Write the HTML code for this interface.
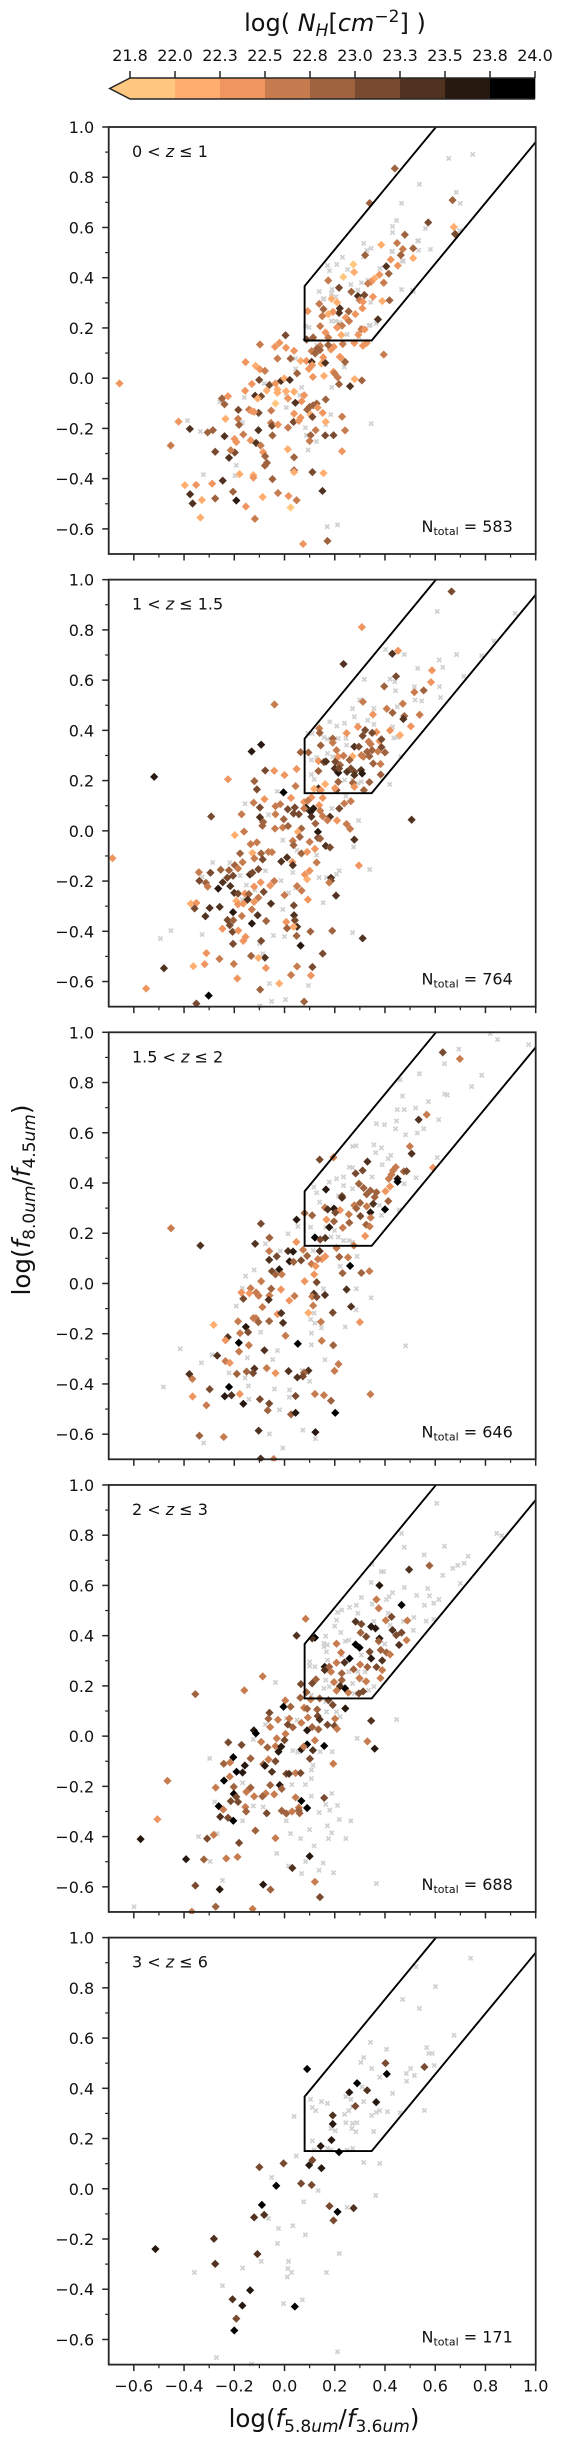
<!DOCTYPE html>
<html lang="en">
<head>
<meta charset="utf-8">
<title>IRAC colour-colour diagram by redshift</title>
<style>
html,body{margin:0;padding:0;background:#fff;}
svg{display:block;font-family:"DejaVu Sans","Liberation Sans",sans-serif;fill:#111;}
</style>
</head>
<body>
<svg id="figure" xmlns="http://www.w3.org/2000/svg" width="561" height="2439" viewBox="0 0 561 2439">
<rect x="0" y="0" width="561" height="2439" fill="#fff"/>
<text x="335" y="31" text-anchor="middle" font-size="24">log( <tspan font-style="italic">N</tspan><tspan font-style="italic" font-size="17" dy="5">H</tspan><tspan dy="-5">[</tspan><tspan font-style="italic">cm</tspan><tspan font-size="17" dy="-9">−2</tspan><tspan dy="9">] )</tspan></text>
<text transform="translate(30,1200) rotate(-90)" text-anchor="middle" font-size="24.5">log(<tspan font-style="italic">f</tspan><tspan font-size="17" dy="5">8.0</tspan><tspan font-size="17" font-style="italic">um</tspan><tspan dy="-5">/</tspan><tspan font-style="italic">f</tspan><tspan font-size="17" dy="5">4.5</tspan><tspan font-size="17" font-style="italic">um</tspan><tspan dy="-5">)</tspan></text>
<text x="324" y="2427" text-anchor="middle" font-size="24.5">log(<tspan font-style="italic">f</tspan><tspan font-size="17" dy="5">5.8</tspan><tspan font-size="17" font-style="italic">um</tspan><tspan dy="-5">/</tspan><tspan font-style="italic">f</tspan><tspan font-size="17" dy="5">3.6</tspan><tspan font-size="17" font-style="italic">um</tspan><tspan dy="-5">)</tspan></text>
<g id="colorbar"></g>
<g id="panels"></g>
</svg>
<script>
const xTickValues = [-0.6,-0.4,-0.2,0.0,0.2,0.4,0.6,0.8,1.0];
const xTickLabels = ["−0.6","−0.4","−0.2","0.0","0.2","0.4","0.6","0.8","1.0"];
const yTickValues = [-0.6,-0.4,-0.2,0.0,0.2,0.4,0.6,0.8,1.0];
const yTickLabels = ["−0.6","−0.4","−0.2","0.0","0.2","0.4","0.6","0.8","1.0"];
const minorTickValues = [-0.5,-0.3,-0.1,0.1,0.3,0.5,0.7,0.9];
const nhLevels = [21.75,22.0,22.25,22.5,22.75,23.0,23.25,23.5,23.75,24.0];
const nhLabels = ["21.8","22.0","22.3","22.5","22.8","23.0","23.3","23.5","23.8","24.0"];
const nhColors = ["#ffc77f","#ffae6f","#ef955f","#c77c4f","#9f643f","#784b30","#503220","#281910","#000000"];
const wedgeX = [0.603,0.08,0.08,0.347,1.0];
const wedgeY = [1.0,0.3668,0.15,0.15,0.94];
const panelLabels = [["0 < ","z"," ≤ 1"],["1 < ","z"," ≤ 1.5"],["1.5 < ","z"," ≤ 2"],["2 < ","z"," ≤ 3"],["3 < ","z"," ≤ 6"]];
const panelTotals = [583,764,646,688,171];

const panel1Sources = [[-.657,-.021,22.4],[-.453,-.268,22.6],[-.422,-.173,22.4],[-.377,-.202,23.4],[-.306,-.216,22.9],[-.285,-.207,22.9],[-.239,-.231,23.4],[-.276,-.293,23.1],[-.221,-.317,23.4],[-.198,-.296,23.1],[-.214,-.287,22.6],[-.199,-.242,22.4],[-.192,-.254,22.4],[-.249,-.081,22.9],[-.239,-.104,22.9],[-.225,-.072,22.4],[-.235,-.162,22.1],[-.184,-.126,23.1],[-.185,-.162,22.6],[-.181,-.186,22.9],[-.164,-.224,22.6],[-.135,-.247,22.4],[-.113,-.258,23.4],[-.095,-.268,22.6],[-.085,-.295,22.4],[-.077,-.311,22.9],[-.07,-.337,22.9],[-.078,-.348,22.9],[-.104,-.207,23.4],[-.103,-.138,23.1],[-.141,-.125,22.6],[-.131,-.131,22.4],[-.121,-.134,22.4],[-.117,-.07,23.4],[-.093,-.072,23.1],[-.107,-.081,22.1],[-.157,-.05,22.4],[-.13,-.023,22.4],[-.071,-.049,22.1],[-.06,-.027,23.1],[-.101,-.007,23.1],[-.036,-.021,22.4],[-.014,-.011,23.4],[-.001,-.001,22.1],[.021,-.007,23.4],[.05,.019,22.9],[-.028,-.045,22.1],[-.028,-.058,22.1],[.006,-.052,22.1],[.038,-.054,22.1],[.014,-.081,22.4],[.078,-.068,22.4],[.068,-.092,22.4],[.043,-.098,23.4],[-.036,-.101,21.9],[-.053,-.129,22.6],[-.054,-.178,22.6],[-.05,-.19,23.1],[-.026,-.185,22.4],[.014,-.197,22.6],[-.048,-.228,22.9],[.038,-.141,22.4],[.036,-.174,23.1],[.057,-.17,22.4],[.064,-.157,22.4],[.09,-.125,22.9],[.1,-.114,22.9],[.114,-.108,22.9],[.128,-.101,22.9],[.132,-.117,22.4],[.104,-.145,22.1],[.111,-.154,23.1],[.152,-.138,22.4],[.164,-.085,22.9],[.164,-.174,22.1],[.124,-.207,22.6],[.104,-.227,22.9],[.1,-.25,22.6],[.162,-.228,23.1],[.195,-.227,23.1],[.229,-.153,22.6],[.241,-.208,22.6],[.229,-.291,22.4],[.013,-.283,22.1],[.038,-.315,22.9],[.038,-.367,22.9],[.038,-.374,22.1],[.111,-.374,23.1],[.155,-.378,22.1],[-.048,-.402,22.9],[-.124,-.386,22.1],[-.124,-.396,22.4],[-.179,-.382,22.1],[-.246,-.408,23.4],[-.288,-.42,22.4],[-.352,-.425,22.4],[-.397,-.426,22.1],[-.376,-.462,23.4],[-.366,-.499,23.4],[-.329,-.485,22.1],[-.276,-.479,22.9],[-.205,-.452,22.9],[-.192,-.487,23.6],[-.154,-.511,22.4],[-.087,-.473,22.1],[-.026,-.457,22.6],[.016,-.469,22.4],[.048,-.486,22.6],[.024,-.515,21.9],[.151,-.449,23.4],[-.335,-.555,22.1],[-.118,-.56,22.6],[.074,-.66,22.4],[.171,-.648,22.9],[-.155,.064,22.4],[-.115,.049,22.1],[-.098,.035,22.4],[-.078,.029,22.6],[-.098,.134,22.6],[-.028,.078,22.6],[.024,.078,22.9],[.064,.069,22.1],[.087,.069,22.4],[.108,.065,23.4],[.006,.121,22.4],[.038,.109,22.4],[-.038,.125,22.4],[-.02,.141,22.4],[.004,.171,23.1],[.097,.037,22.4],[.11,.052,22.4],[.113,.005,22.4],[.157,.009,22.1],[.147,.058,22.1],[.162,.061,23.4],[.195,.025,22.4],[.199,.019,22.6],[.212,.003,22.6],[.217,-.024,22.9],[.261,-.032,23.4],[.279,-.004,22.1],[.308,-.009,22.9],[.241,.065,22.9],[.224,.082,22.4],[.395,.094,22.6],[.385,.531,22.1],[.448,.538,22.6],[.471,.514,22.6],[.512,.517,22.9],[.463,.49,22.9],[.423,.472,22.4],[.512,.478,22.1],[.451,.448,22.4],[.405,.445,23.4],[.321,.49,22.9],[.274,.453,21.9],[.277,.422,22.1],[.234,.403,21.9],[.174,.389,22.6],[.217,.36,23.1],[.415,.416,22.9],[.378,.412,22.4],[.358,.397,22.1],[.345,.384,22.4],[.332,.377,22.6],[.395,.38,22.6],[.266,.344,22.9],[.318,.331,23.1],[.292,.327,23.4],[.352,.324,22.4],[.389,.307,22.1],[.418,.31,22.9],[.299,.311,22.6],[.312,.304,22.4],[.187,.316,22.1],[.209,.302,22.1],[.138,.296,22.6],[.155,.275,22.9],[.22,.278,23.4],[.217,.26,23.4],[.193,.264,22.4],[.174,.255,22.1],[.15,.247,22.6],[.092,.267,22.4],[.255,.266,22.9],[.31,.278,22.4],[.282,.255,22.4],[.244,.241,22.4],[.257,.227,22.6],[.372,.234,23.4],[.142,.207,22.6],[.214,.206,22.9],[.229,.209,22.6],[.209,.202,22.4],[.163,.182,22.4],[.306,.195,22.6],[.319,.194,22.4],[.226,.172,22.1],[.294,.173,22.4],[.174,.162,22.6],[.114,.162,22.9],[.088,.154,23.1],[.278,.14,22.4],[.312,.129,22.4],[.327,.14,22.4],[.232,.136,22.6],[.196,.125,22.4],[.185,.114,22.4],[.174,.132,22.9],[.142,.128,22.6],[.13,.118,22.9],[.108,.108,22.6],[.141,.112,22.9],[.122,.098,22.9],[.154,.083,22.4],[.22,.085,22.4],[.439,.835,22.9],[.339,.697,22.9],[.669,.709,22.9],[.572,.62,23.1],[.674,.602,22.1],[.679,.574,23.1],[.479,.571,22.9]];
const panel1Undetected = [[.654,.875],[.749,.891],[.537,.772],[.684,.74],[.7,.696],[.466,.696],[.446,.628],[.43,.604],[.43,.58],[.561,.596],[.697,.588],[.315,.537],[.345,.517],[.328,.509],[.315,.483],[.534,.548],[.534,.509],[.581,.513],[.43,.505],[.473,.465],[.231,.481],[.171,.449],[.208,.453],[.179,.428],[.251,.433],[.38,.437],[.138,.345],[.189,.353],[.187,.337],[.157,.317],[.204,.324],[.264,.373],[.306,.38],[.332,.39],[.292,.351],[.466,.353],[.513,.344],[.098,.202],[.084,.207],[.187,.227],[.204,.227],[.22,.222],[.249,.174],[.336,.209],[.365,.218],[.306,.2],[.154,.314],[.343,.302],[.51,.351],[.53,.546],[.427,.504],[.468,.468],[-.258,-.094],[-.16,-.077],[-.081,-.021],[.007,-.072],[.044,.078],[.044,.037],[.068,-.037],[.061,-.068],[.007,-.117],[.238,.045],[.188,-.037],[.184,-.145],[.164,-.185],[.345,-.181],[.083,-.197],[.087,-.227],[.127,-.252],[.094,-.286],[-.167,-.177],[-.386,-.169],[-.335,-.212],[-.192,-.347],[-.323,-.384],[-.197,-.388],[.17,-.591],[.211,-.584],[.128,.131],[.292,.178],[.249,.174],[.342,.211],[.296,.165]];

const panel2Sources = [[.665,.953,23.1],[.308,.811,22.4],[.452,.717,22.4],[.429,.705,23.4],[.235,.664,23.4],[.444,.615,23.1],[.587,.639,22.4],[.583,.592,22.4],[.397,.575,22.9],[.517,.552,22.6],[.554,.559,22.9],[.312,.514,22.6],[-.04,.503,22.6],[.471,.506,22.6],[.407,.486,22.6],[.43,.47,22.9],[.352,.463,22.4],[.477,.457,22.9],[.538,.462,22.6],[.473,.445,23.4],[.503,.416,22.4],[.292,.414,22.4],[.46,.381,22.1],[.42,.4,22.4],[.366,.393,22.4],[.138,.408,22.6],[.14,.39,22.9],[.247,.389,22.4],[.321,.401,23.1],[.311,.378,23.1],[.349,.39,23.1],[.192,.367,22.9],[.192,.351,22.6],[.144,.34,22.9],[.335,.355,22.6],[.343,.345,22.6],[.378,.357,22.4],[.386,.364,23.1],[.386,.333,23.1],[.278,.335,23.4],[.296,.335,23.1],[.349,.321,22.9],[.372,.316,22.6],[.4,.312,22.9],[.329,.315,22.9],[.207,.321,22.6],[.214,.295,22.4],[.235,.299,22.6],[.271,.297,22.1],[.306,.301,22.6],[.314,.295,22.6],[.338,.297,22.9],[.064,.313,22.9],[.095,.312,22.9],[.135,.278,22.4],[.157,.274,23.1],[.165,.276,23.4],[.202,.275,23.1],[.259,.282,22.9],[.353,.268,22.9],[.382,.266,22.6],[.221,.262,22.9],[.2,.248,23.4],[.214,.231,23.6],[.217,.248,23.1],[.249,.235,23.4],[.264,.248,23.1],[.278,.235,23.1],[.305,.242,23.4],[.309,.228,23.6],[.278,.222,23.4],[.135,.238,22.9],[.048,.246,22.4],[-.041,.239,22.4],[-.077,.24,23.1],[0,.222,22.4],[-.225,.205,22.4],[-.12,.198,22.9],[-.11,.165,23.1],[-.093,.343,23.6],[-.131,.316,23.6],[-.519,.215,23.6],[.044,.178,22.6],[-.004,.153,23.9],[.135,.169,23.4],[.118,.167,22.1],[.145,.162,22.4],[.162,.186,22.1],[.214,.195,22.9],[.272,.191,22.9],[.278,.175,22.4],[.338,.194,22.9],[.383,.224,22.9],[.316,.162,22.9],[.207,.162,23.1],[.201,.17,22.4],[.026,.131,22.4],[-.08,.126,22.4],[-.123,.112,22.6],[-.098,.093,23.1],[.078,.115,22.4],[.107,.133,22.4],[.093,.12,22.6],[.152,.131,22.4],[.138,.102,22.4],[.264,.118,22.6],[.238,.109,22.6],[.218,.089,23.1],[.181,.056,23.4],[.115,.089,23.6],[.086,.092,23.6],[-.036,.098,22.6],[-.017,.106,22.6],[.013,.086,23.1],[.041,.093,23.1],[.036,.069,23.1],[.057,.066,23.1],[.104,.076,23.6],[.107,.056,23.4],[.078,.089,22.6],[.142,.08,22.6],[.152,.058,22.6],[.171,.042,22.6],[.209,.041,22.4],[-.036,.066,22.6],[-.003,.046,22.9],[-.171,.066,22.6],[-.292,.057,23.1],[-.098,.054,23.4],[-.085,.035,22.9],[-.088,.02,22.9],[-.038,.009,22.6],[-.007,.013,22.6],[.014,.019,22.9],[.067,.009,22.9],[.123,.029,22.9],[.247,.027,22.6],[.261,.008,22.6],[.506,.044,23.4],[-.161,-.003,22.6],[-.198,-.017,22.1],[.053,-.004,22.1],[.061,-.024,22.9],[.133,-.004,23.6],[.133,-.028,23.1],[.142,-.031,22.9],[.278,-.035,23.4],[.1,-.044,22.6],[.033,-.04,22.6],[.036,-.057,22.9],[.164,-.06,23.4],[.181,-.066,23.1],[-.135,-.053,22.6],[-.11,-.046,22.6],[-.128,-.088,22.1],[-.177,-.09,22.9],[-.093,-.09,22.9],[-.064,-.084,22.6],[-.05,-.085,22.6],[.067,-.09,22.9],[.09,-.084,22.4],[.121,-.072,22.4],[-.12,-.11,22.6],[-.087,-.114,23.1],[-.167,-.125,22.6],[-.198,-.137,22.9],[-.185,-.15,22.6],[-.013,-.122,23.4],[.01,-.106,23.4],[.031,-.124,22.4],[.033,-.137,23.4],[.128,-.126,22.6],[.296,-.138,22.4],[-.341,-.165,22.6],[-.295,-.167,23.1],[-.254,-.155,22.9],[-.221,-.157,22.9],[-.104,-.153,23.1],[-.138,-.174,23.4],[-.128,-.167,23.1],[-.205,-.179,23.1],[-.228,-.187,23.1],[.1,-.159,22.4],[.081,-.174,22.4],[.09,-.193,22.1],[.185,-.187,23.4],[.185,-.199,23.1],[.178,-.206,22.6],[-.339,-.199,23.1],[-.313,-.207,22.9],[-.306,-.222,22.6],[-.246,-.205,23.4],[-.264,-.23,23.6],[-.216,-.22,23.4],[-.041,-.2,22.6],[-.057,-.218,22.4],[-.095,-.205,22.4],[-.121,-.222,22.4],[.05,-.22,22.6],[.068,-.238,22.6],[-.083,-.243,23.1],[-.2,-.247,23.4],[-.185,-.25,23.1],[-.158,-.25,22.4],[-.142,-.252,22.9],[0,-.256,22.6],[.205,-.258,23.4],[-.147,-.274,23.4],[-.104,-.266,22.6],[.093,-.274,22.4],[-.192,-.279,22.1],[-.185,-.293,22.4],[-.164,-.29,22.4],[-.121,-.283,22.4],[-.054,-.29,23.4],[-.373,-.29,22.1],[-.351,-.287,22.4],[-.358,-.309,23.1],[-.298,-.307,23.4],[-.258,-.303,23.4],[.037,-.297,23.1],[-.315,-.34,23.4],[-.205,-.324,23.6],[-.13,-.313,22.6],[-.107,-.336,23.4],[.038,-.336,23.4],[-.227,-.355,23.1],[-.204,-.356,22.9],[-.17,-.339,22.6],[-.073,-.359,22.9],[.041,-.356,23.1],[-.13,-.369,23.6],[-.218,-.376,23.1],[.007,-.363,22.4],[.01,-.388,22.9],[.05,-.382,23.4],[.036,-.382,22.1],[-.247,-.39,22.4],[-.207,-.402,23.1],[-.184,-.397,22.4],[.103,-.401,22.9],[.19,-.398,22.9],[-.155,-.422,22.4],[-.164,-.438,22.4],[-.093,-.438,23.1],[.048,-.418,22.9],[.311,-.428,23.4],[-.205,-.45,23.1],[.064,-.457,23.6],[.152,-.489,23.1],[-.311,-.487,22.4],[-.133,-.498,22.9],[-.078,-.505,23.4],[-.104,-.506,22.1],[-.259,-.51,22.6],[-.318,-.531,22.4],[-.202,-.53,22.6],[-.363,-.539,22.1],[-.48,-.547,23.4],[-.074,-.546,22.4],[.05,-.54,22.6],[.111,-.542,23.1],[-.188,-.588,22.4],[.026,-.574,22.6],[.105,-.576,22.4],[-.021,-.608,22.1],[-.551,-.628,22.4],[-.097,-.632,22.9],[-.302,-.656,23.9],[-.351,-.688,23.1],[.078,-.68,22.9],[-.685,-.109,22.4]];
const panel2Undetected = [[.608,.873],[.918,.866],[.834,.756],[.402,.722],[.477,.702],[.685,.702],[.785,.697],[.616,.68],[.63,.651],[.53,.647],[.714,.615],[.318,.603],[.42,.604],[.439,.594],[.442,.558],[.517,.574],[.617,.574],[.621,.531],[.52,.521],[.546,.517],[.299,.521],[.271,.487],[.356,.487],[.278,.454],[.18,.434],[.208,.417],[.239,.428],[.292,.421],[.356,.424],[.331,.44],[.449,.494],[.43,.414],[.435,.37],[.449,.372],[.093,.388],[.11,.388],[.157,.372],[.171,.365],[.244,.368],[.214,.368],[.247,.341],[.463,.295],[.107,.282],[.128,.292],[.171,.308],[.192,.295],[.107,.224],[.118,.205],[.239,.202],[.306,.195],[.292,.189],[.271,.202],[.419,.185],[-.029,.157],[.244,.138],[-.157,.108],[-.064,.064],[.295,.041],[.188,.089],[-.007,-.037],[.05,-.077],[.275,-.064],[.128,-.097],[-.286,-.126],[-.218,-.127],[-.076,-.159],[.033,-.166],[.218,-.159],[.207,-.173],[.339,-.154],[-.328,-.183],[-.177,-.178],[-.014,-.198],[.138,-.186],[.167,-.186],[-.152,-.216],[-.118,-.236],[.016,-.247],[.044,-.228],[-.168,-.274],[.154,-.286],[-.007,-.313],[-.452,-.397],[-.494,-.429],[-.328,-.413],[-.044,-.417],[0,-.421],[.271,-.405],[-.1,-.449],[-.087,-.489],[-.06,-.608],[.095,-.616],[.004,-.672],[-.051,-.679],[-.098,-.697]];

const panel3Sources = [[.63,.92,23.1],[.698,.894,22.6],[.566,.672,22.6],[.534,.652,23.4],[.499,.546,22.6],[.506,.517,23.4],[.14,.493,23.1],[.195,.502,22.6],[.33,.485,23.4],[.311,.45,23.1],[.283,.438,23.1],[.591,.461,22.4],[.443,.463,22.6],[.432,.45,22.6],[.426,.434,22.6],[.475,.446,22.9],[.486,.447,23.1],[.415,.417,22.6],[.45,.417,23.6],[.45,.405,23.9],[.296,.397,22.9],[.315,.38,22.9],[.42,.386,22.4],[.402,.367,22.4],[.165,.374,23.6],[.342,.37,22.9],[.327,.355,22.9],[.366,.363,22.9],[.229,.348,23.1],[.229,.341,23.4],[.359,.344,22.9],[.413,.328,22.9],[.353,.317,23.4],[.327,.307,22.6],[.301,.321,22.9],[.278,.311,22.6],[.286,.299,22.9],[.4,.295,23.9],[.342,.283,23.6],[.161,.302,22.6],[.172,.295,23.4],[.197,.298,23.6],[.221,.292,22.4],[.202,.282,23.1],[.256,.275,22.6],[.08,.28,22.9],[.11,.271,22.9],[.302,.268,23.1],[.343,.262,22.6],[.167,.254,22.4],[.197,.247,22.9],[.048,.254,23.6],[-.094,.238,23.1],[-.452,.22,22.6],[.258,.242,22.9],[.325,.234,22.9],[.339,.227,22.6],[.178,.224,23.6],[.232,.222,22.6],[.321,.189,22.4],[.121,.183,23.9],[.162,.181,23.4],[.142,.175,23.1],[-.06,.182,22.9],[-.117,.158,23.4],[.047,.165,22.4],[-.335,.151,23.4],[.14,.129,23.4],[.074,.134,22.6],[-.061,.129,22.6],[.014,.129,23.4],[.034,.127,23.6],[.09,.11,22.9],[.207,.141,22.6],[.276,.151,22.6],[.218,.106,22.9],[.253,.104,22.6],[.149,.097,22.4],[.162,.108,22.4],[.133,.097,22.6],[-.061,.094,23.4],[-.031,.108,23.1],[.02,.088,23.6],[.036,.086,22.9],[.066,.092,23.1],[.107,.078,22.6],[.124,.069,22.4],[.261,.07,23.9],[.306,.042,22.9],[.338,.049,22.6],[-.021,.056,23.6],[-.05,.049,23.1],[-.036,.036,22.9],[-.011,.036,22.6],[-.093,.009,22.6],[.118,.036,22.4],[.231,.041,22.9],[.08,.009,22.4],[.128,.005,23.1],[-.135,-.019,22.6],[-.053,-.021,22.9],[-.014,-.024,22.4],[-.172,-.036,22.4],[-.14,-.039,22.4],[-.113,-.036,22.6],[-.103,-.049,22.6],[-.164,-.061,23.1],[-.06,-.048,22.6],[-.063,-.065,23.4],[.04,-.05,22.6],[.019,-.068,22.4],[.117,-.041,23.4],[.161,-.046,23.4],[.11,-.052,22.6],[.128,-.054,23.1],[.247,-.024,23.4],[.114,-.088,22.6],[.265,-.092,23.4],[-.088,-.094,22.6],[.192,-.116,23.1],[.095,-.117,22.1],[-.028,-.122,22.4],[-.013,-.118,23.4],[-.124,-.138,22.6],[-.114,-.138,22.6],[-.061,-.15,22.9],[-.185,-.151,22.6],[-.104,-.154,22.9],[-.006,-.157,23.4],[.145,-.153,22.6],[.3,-.154,22.4],[-.282,-.165,22.1],[-.154,-.173,23.6],[-.177,-.198,22.6],[-.145,-.194,23.1],[-.226,-.214,23.4],[-.235,-.226,22.4],[.004,-.208,22.6],[-.182,-.236,23.9],[.053,-.24,23.9],[.148,-.228,22.6],[-.142,-.246,22.6],[.194,-.246,22.9],[-.181,-.271,22.6],[-.08,-.266,23.4],[-.268,-.287,23.4],[-.235,-.309,22.6],[-.218,-.316,22.4],[.215,-.321,22.6],[-.071,-.337,22.6],[.016,-.349,23.4],[-.12,-.339,23.4],[.199,-.348,22.6],[-.151,-.351,22.9],[-.125,-.357,23.1],[-.036,-.357,22.4],[.095,-.347,23.4],[.078,-.356,22.9],[-.19,-.36,22.9],[-.379,-.361,23.4],[-.367,-.38,22.6],[.073,-.37,23.1],[.051,-.374,23.4],[-.221,-.412,23.9],[-.298,-.421,23.1],[-.178,-.44,22.4],[.342,-.441,22.6],[.121,-.44,22.6],[.157,-.445,22.6],[-.366,-.45,22.4],[-.238,-.449,23.6],[-.211,-.445,23.4],[.044,-.448,23.1],[-.098,-.461,23.1],[.185,-.467,22.9],[-.164,-.479,23.6],[-.061,-.478,23.1],[-.311,-.485,22.6],[-.067,-.505,22.9],[.202,-.515,23.9],[.026,-.521,22.9],[.044,-.515,23.6],[-.103,-.586,23.4],[.123,-.592,23.6],[-.339,-.606,22.9],[-.242,-.611,22.6],[-.095,-.697,23.4],[-.043,-.699,22.6]];
const panel3Undetected = [[.819,.995],[.848,.971],[.972,.951],[.694,.933],[.637,.875],[.537,.835],[.46,.811],[.785,.829],[.745,.784],[.638,.754],[.648,.75],[.47,.746],[.573,.724],[.449,.692],[.477,.692],[.522,.699],[.446,.647],[.614,.652],[.366,.636],[.398,.632],[.442,.616],[.554,.616],[.529,.599],[.482,.592],[.356,.552],[.271,.546],[.285,.548],[.386,.54],[.363,.521],[.423,.51],[.413,.497],[.608,.501],[.389,.473],[.258,.463],[.271,.461],[.349,.424],[.524,.421],[.235,.424],[.207,.417],[.178,.404],[.235,.39],[.271,.377],[.477,.397],[.117,.384],[.128,.361],[.214,.348],[.378,.311],[.456,.293],[.14,.324],[.386,.271],[.053,.227],[.104,.224],[.164,.224],[.199,.211],[.185,.185],[.214,.185],[.235,.171],[.256,.171],[.271,.165],[.014,.198],[-.076,.158],[-.017,.129],[.114,.131],[.221,.069],[.289,.108],[-.121,.054],[-.155,.029],[.345,-.057],[.286,-.021],[-.192,-.09],[-.168,-.019],[.155,-.021],[.285,-.105],[.118,-.118],[.104,-.143],[.121,-.158],[.242,-.173],[.147,-.177],[.107,-.198],[-.095,-.194],[.107,-.244],[.482,-.248],[-.028,-.267],[-.415,-.26],[-.288,-.284],[-.331,-.316],[-.148,-.296],[-.047,-.303],[.161,-.304],[-.221,-.356],[-.157,-.376],[.071,-.347],[.1,-.39],[-.482,-.412],[-.144,-.408],[-.04,-.42],[.02,-.424],[.019,-.453],[-.142,-.461],[-.02,-.503],[.073,-.584],[-.06,-.599],[.123,-.618],[-.322,-.635],[-.007,-.655]];

const panel4Sources = [[.577,.679,22.9],[.496,.663,23.4],[.378,.6,23.6],[.366,.544,22.6],[.466,.522,23.9],[.375,.509,22.6],[.084,.467,22.6],[.283,.456,23.4],[.306,.446,23.1],[.426,.475,23.1],[.403,.461,22.6],[.489,.46,22.6],[.345,.436,23.6],[.362,.429,23.6],[.048,.4,23.4],[.121,.392,23.9],[.11,.389,23.4],[.303,.412,22.9],[.43,.422,23.4],[.466,.412,23.1],[.445,.402,23.1],[.325,.396,23.1],[.378,.389,23.6],[.375,.378,22.9],[.486,.382,22.6],[.283,.365,23.9],[.299,.352,23.9],[.207,.368,22.6],[.456,.363,23.4],[.383,.343,22.9],[.339,.336,23.1],[.406,.333,22.9],[.42,.325,22.6],[.225,.333,22.6],[.259,.309,23.9],[.345,.309,23.6],[.239,.293,23.4],[.389,.301,23.4],[.207,.292,22.6],[.301,.285,22.6],[.16,.276,23.6],[.16,.263,23.4],[.178,.276,22.9],[.33,.275,22.9],[.366,.275,23.1],[.275,.266,22.9],[.185,.256,22.6],[.389,.263,22.6],[.228,.25,22.9],[.298,.231,22.6],[.382,.231,22.6],[.125,.226,22.9],[.11,.21,23.1],[.065,.207,23.1],[.197,.215,22.6],[.228,.223,22.9],[.325,.218,22.6],[-.087,.238,22.6],[.241,.19,23.9],[.221,.199,23.4],[.207,.181,22.6],[.087,.175,22.9],[-.355,.167,22.9],[-.16,.182,22.6],[.296,.17,23.1],[.313,.178,23.1],[.254,.173,22.6],[.063,.153,22.9],[.104,.146,22.6],[.14,.15,22.9],[.175,.143,23.1],[.003,.142,22.6],[.192,.124,23.1],[-.004,.117,23.9],[.024,.117,22.9],[.078,.113,22.6],[.09,.109,22.9],[.13,.106,22.9],[.242,.11,23.6],[-.06,.093,23.1],[.132,.08,23.1],[.14,.066,23.4],[-.064,.069,22.9],[-.026,.065,22.6],[.019,.07,22.6],[.345,.061,23.4],[.201,.069,22.6],[.067,.053,22.6],[.093,.074,22.6],[.013,.046,23.1],[.171,.045,23.1],[-.057,.036,22.6],[.033,.035,22.9],[.11,.036,22.9],[.199,.041,23.1],[.209,.029,22.6],[-.122,.023,23.6],[-.114,.011,23.9],[.09,.023,23.6],[.135,.027,22.9],[.004,.009,22.6],[.33,-.021,22.6],[-.031,-.009,22.6],[0,-.016,23.1],[-.093,-.023,22.6],[-.224,-.025,23.1],[-.171,-.035,23.1],[.121,-.017,22.6],[.09,-.033,23.9],[-.036,-.04,22.6],[-.013,-.042,23.6],[-.068,-.045,22.9],[-.024,-.062,23.6],[.067,-.053,23.6],[.076,-.042,22.6],[.113,-.056,23.4],[.158,-.039,23.9],[.359,-.05,23.6],[-.135,-.089,22.9],[-.204,-.084,23.9],[.101,-.09,23.1],[-.064,-.093,22.6],[-.036,-.1,23.1],[-.242,-.11,22.9],[-.217,-.105,22.6],[-.084,-.112,22.9],[-.158,-.117,23.6],[-.078,-.118,23.6],[.194,-.11,22.6],[-.191,-.142,23.9],[-.167,-.145,23.6],[-.05,-.142,23.4],[.007,-.15,23.1],[.018,-.15,23.4],[.044,-.147,22.6],[.064,-.147,23.1],[-.218,-.161,22.6],[-.241,-.177,23.9],[-.466,-.178,22.6],[-.274,-.205,22.6],[-.202,-.202,22.9],[-.057,-.195,22.9],[-.019,-.195,23.6],[-.011,-.21,22.9],[-.135,-.205,22.9],[-.142,-.212,22.9],[-.152,-.222,22.6],[-.202,-.23,23.9],[-.192,-.242,23.1],[-.075,-.228,22.6],[-.088,-.24,22.9],[-.041,-.232,22.6],[-.121,-.24,22.6],[.044,-.244,22.6],[.158,-.246,23.1],[-.185,-.262,23.1],[-.214,-.259,23.1],[.067,-.258,23.9],[-.262,-.279,23.9],[.09,-.286,23.9],[-.244,-.292,22.6],[-.156,-.282,22.6],[.057,-.284,22.6],[-.153,-.3,22.9],[-.011,-.297,22.9],[.007,-.308,22.9],[.03,-.3,22.6],[.057,-.295,22.9],[.06,-.307,22.9],[-.071,-.307,23.1],[-.256,-.321,23.4],[-.225,-.325,23.1],[-.204,-.337,23.9],[-.506,-.331,22.4],[-.116,-.376,22.9],[-.282,-.393,22.6],[-.308,-.408,23.1],[-.573,-.41,23.6],[-.036,-.406,22.6],[-.181,-.425,23.1],[.1,-.478,23.6],[-.187,-.481,22.6],[-.232,-.487,22.6],[-.392,-.49,23.6],[-.321,-.491,22.9],[.031,-.525,23.4],[.121,-.58,22.6],[-.355,-.595,23.1],[-.085,-.591,23.6],[-.258,-.61,23.6],[-.056,-.611,22.9],[.141,-.641,23.1],[-.274,-.679,22.9],[-.127,-.688,22.6],[-.369,-.699,22.6]];
const panel4Undetected = [[.606,.927],[.466,.807],[.477,.752],[.637,.756],[.845,.807],[.865,.798],[.556,.722],[.731,.716],[.715,.688],[.69,.68],[.67,.668],[.63,.64],[.349,.684],[.385,.655],[.395,.655],[.345,.612],[.7,.608],[.477,.592],[.57,.588],[.43,.571],[.416,.555],[.406,.544],[.526,.56],[.577,.559],[.306,.552],[.615,.544],[.594,.529],[.557,.521],[.286,.521],[.349,.526],[.259,.513],[.292,.489],[.228,.502],[.211,.493],[.413,.489],[.515,.473],[.356,.457],[.564,.458],[.594,.465],[.473,.457],[.207,.462],[.2,.438],[.224,.413],[.164,.398],[.513,.421],[.42,.442],[.157,.369],[.171,.363],[.157,.356],[.167,.336],[.242,.378],[.256,.382],[.399,.367],[.306,.323],[.228,.323],[.171,.303],[.1,.296],[.1,.279],[.121,.276],[.256,.256],[.292,.256],[.321,.256],[.164,.223],[.271,.21],[.306,.223],[-.036,.214],[.157,.19],[.178,.197],[.356,.197],[.107,.163],[.278,.17],[.335,.183],[.164,.137],[.167,.097],[.207,.097],[.221,.077],[.446,.066],[.007,.07],[.05,.064],[-.076,.046],[-.124,-.013],[.289,-.009],[.033,-.058],[.053,-.064],[.142,-.062],[.19,-.062],[-.298,-.089],[.114,-.116],[.107,-.135],[.107,-.169],[-.167,-.186],[.029,-.193],[.083,-.193],[.188,-.228],[.107,-.239],[-.278,-.262],[-.124,-.278],[-.085,-.282],[.164,-.272],[.211,-.276],[.138,-.304],[.18,-.295],[.007,-.337],[-.167,-.337],[.218,-.332],[.264,-.337],[.171,-.357],[.1,-.372],[.188,-.385],[-.342,-.4],[-.268,-.388],[.024,-.388],[.064,-.408],[.175,-.408],[.244,-.408],[.118,-.437],[-.031,-.467],[-.296,-.499],[.154,-.505],[.084,-.499],[.016,-.517],[.138,-.534],[.068,-.547],[.195,-.544],[-.247,-.574],[.366,-.587],[-.599,-.679]];

const panel5Sources = [[.09,.477,23.9],[.402,.5,23.1],[.557,.485,23.1],[.407,.457,23.9],[.289,.42,23.9],[.258,.384,23.6],[.329,.392,23.4],[.282,.329,23.1],[.365,.345,23.6],[.192,.292,23.4],[.192,.258,23.6],[.187,.194,23.6],[.144,.17,23.6],[.217,.146,23.9],[.111,.114,23.1],[.098,.094,23.6],[-.004,.101,23.1],[-.1,.086,23.1],[.147,.082,23.6],[.066,.021,23.1],[.108,.015,23.1],[-.033,.012,23.9],[-.09,-.064,23.9],[.179,-.069,23.1],[.275,-.077,23.4],[.211,-.092,23.9],[-.081,-.104,23.4],[-.121,-.114,23.4],[.195,-.126,23.1],[-.281,-.199,23.4],[-.514,-.24,23.6],[-.108,-.26,23.4],[-.276,-.299,23.4],[-.137,-.404,23.6],[-.207,-.44,23.4],[-.168,-.465,23.6],[.041,-.469,23.9],[-.192,-.517,23.1],[-.2,-.564,23.9]];
const panel5Undetected = [[.741,.918],[.524,.884],[.601,.805],[.47,.754],[.537,.718],[.675,.611],[.342,.583],[.406,.555],[.566,.562],[.574,.539],[.588,.539],[.315,.523],[.304,.503],[.347,.479],[.502,.479],[.485,.459],[.596,.491],[.517,.451],[.379,.444],[.486,.428],[.309,.406],[.43,.38],[.244,.367],[.264,.356],[.104,.356],[.147,.347],[.171,.34],[.315,.347],[.111,.324],[.124,.311],[.271,.327],[.41,.307],[.557,.312],[.256,.311],[.365,.304],[.379,.311],[.46,.303],[.347,.292],[.239,.296],[.038,.288],[.244,.263],[.271,.26],[.288,.263],[.185,.24],[.268,.24],[.202,.231],[.284,.227],[.355,.228],[.111,.191],[.118,.154],[.171,.161],[.185,.154],[.249,.154],[.271,.161],[.047,.131],[.315,.105],[.379,.101],[-.051,.045],[.134,-.007],[.363,-.027],[.076,-.052],[.249,-.074],[-.064,-.118],[-.024,-.158],[.033,-.147],[.083,-.183],[-.028,-.218],[.218,-.258],[-.093,-.289],[.016,-.289],[-.167,-.315],[.013,-.317],[.028,-.333],[.011,-.351],[.167,-.333],[-.359,-.333],[-.247,-.386],[.071,-.442],[-.004,-.457],[.211,-.649],[-.271,-.672],[-.131,-.698]];

const panelSources = [panel1Sources,panel2Sources,panel3Sources,panel4Sources,panel5Sources];
const panelUndetected = [panel1Undetected,panel2Undetected,panel3Undetected,panel4Undetected,panel5Undetected];

const SVGNS = "http://www.w3.org/2000/svg";
const AXIS_LEFT = 108.7, AXIS_SIZE = 427, X_MIN = -0.7, X_MAX = 1.0, Y_MIN = -0.7, Y_MAX = 1.0;
const FIRST_TOP = 127, PANEL_STEP = 452.65;
const CB_LEFT = 130, CB_RIGHT = 535, CB_TOP = 78, CB_BOTTOM = 99, CB_TIP = 109.7;
const INK = "#262626";

function xScale(v){ return AXIS_LEFT + (v - X_MIN) / (X_MAX - X_MIN) * AXIS_SIZE; }
function yScale(v, top){ return top + (Y_MAX - v) / (Y_MAX - Y_MIN) * AXIS_SIZE; }
function nhScale(v){ return CB_LEFT + (v - nhLevels[0]) / (nhLevels[nhLevels.length-1] - nhLevels[0]) * (CB_RIGHT - CB_LEFT); }
function colorOf(nh){
  let i = Math.floor((nh - nhLevels[0]) / (nhLevels[1] - nhLevels[0]));
  return nhColors[Math.max(0, Math.min(nhColors.length - 1, i))];
}
function make(tag, attrs, parent){
  const el = document.createElementNS(SVGNS, tag);
  for (const k in attrs) el.setAttribute(k, attrs[k]);
  parent.appendChild(el);
  return el;
}

/* colour bar */
const cb = document.getElementById("colorbar");
nhColors.forEach(function(c, i){
  const x0 = nhScale(nhLevels[i]), x1 = nhScale(nhLevels[i+1]);
  const seg = make("rect", {x:x0, y:CB_TOP, width:x1-x0+0.3, height:CB_BOTTOM-CB_TOP, fill:c}, cb);
  
  
});
const cbTip = make("polygon", {points:CB_LEFT+","+CB_TOP+" "+CB_TIP+","+((CB_TOP+CB_BOTTOM)/2)+" "+CB_LEFT+","+CB_BOTTOM, fill:nhColors[0]}, cb);


const cbOutline = make("path", {d:"M"+CB_RIGHT+" "+CB_TOP+"H"+CB_LEFT+"L"+CB_TIP+" "+((CB_TOP+CB_BOTTOM)/2)+"L"+CB_LEFT+" "+CB_BOTTOM+"H"+CB_RIGHT, fill:"none", stroke:INK, "stroke-width":1.5}, cb);


nhLevels.forEach(function(v, i){
  const x = nhScale(v);
  const t = make("line", {x1:x, x2:x, y1:CB_TOP, y2:CB_TOP-7, stroke:INK, "stroke-width":1.5}, cb);
  
  
  const lab = make("text", {x:x, y:61, "text-anchor":"middle", "font-size":16}, cb);
  
  
  lab.textContent = nhLabels[i];
});

/* panels */
const root = document.getElementById("panels");
panelSources.forEach(function(sources, p){
  const top = FIRST_TOP + p * PANEL_STEP;
  const bottom = top + AXIS_SIZE;
  const g = make("g", {}, root);
  
  

  const clipId = "clip" + p;
  const clip = make("clipPath", {id:clipId}, g);
  make("rect", {x:AXIS_LEFT-2, y:top-2, width:AXIS_SIZE+4, height:AXIS_SIZE+4}, clip);
  const marks = make("g", {"clip-path":"url(#"+clipId+")"}, g);
  
  

  panelUndetected[p].forEach(function(d){
    const x = xScale(d[0]), y = yScale(d[1], top), r = 2.1;
    const m = make("path", {d:"M"+(x-r)+" "+(y-r)+"L"+(x+r)+" "+(y+r)+"M"+(x-r)+" "+(y+r)+"L"+(x+r)+" "+(y-r), stroke:"#d0d0d0", "stroke-width":1.7, fill:"none"}, marks);
    
    
  });
  sources.forEach(function(d){
    const x = xScale(d[0]), y = yScale(d[1], top), r = 4.1;
    const m = make("polygon", {points:x+","+(y-r)+" "+(x+r)+","+y+" "+x+","+(y+r)+" "+(x-r)+","+y, fill:colorOf(d[2])}, marks);
    
    
  });

  const wedge = make("polyline", {points:wedgeX.map(function(v,i){return xScale(v)+","+yScale(wedgeY[i],top);}).join(" "), fill:"none", stroke:"#000", "stroke-width":1.9}, g);
  
  

  const frame = make("rect", {x:AXIS_LEFT, y:top, width:AXIS_SIZE, height:AXIS_SIZE, fill:"none", stroke:INK, "stroke-width":1.8}, g);
  
  

  yTickValues.forEach(function(v, i){
    const y = yScale(v, top);
    const t = make("line", {x1:AXIS_LEFT-6.5, x2:AXIS_LEFT, y1:y, y2:y, stroke:INK, "stroke-width":1.5}, g);
    
    
    const lab = make("text", {x:AXIS_LEFT-14.5, y:y+6, "text-anchor":"end", "font-size":16}, g);
    
    
    lab.textContent = yTickLabels[i];
  });
  minorTickValues.forEach(function(v){
    const y = yScale(v, top), x = xScale(v);
    const ty = make("line", {x1:AXIS_LEFT-3.6, x2:AXIS_LEFT, y1:y, y2:y, stroke:INK, "stroke-width":1.2}, g);
    
    
    const tx = make("line", {x1:x, x2:x, y1:bottom, y2:bottom+3.6, stroke:INK, "stroke-width":1.2}, g);
    
    
  });
  xTickValues.forEach(function(v, i){
    const x = xScale(v);
    const t = make("line", {x1:x, x2:x, y1:bottom, y2:bottom+6.5, stroke:INK, "stroke-width":1.5}, g);
    
    
    if (p === panelSources.length - 1) {
      const lab = make("text", {x:x, y:bottom+27, "text-anchor":"middle", "font-size":16}, g);
      
      
      lab.textContent = xTickLabels[i];
    }
  });

  const zText = make("text", {x:132, y:top+30, "font-size":16}, g);
  
  
  const zParts = panelLabels[p];
  make("tspan", {}, zText).textContent = zParts[0];
  make("tspan", {"font-style":"italic"}, zText).textContent = zParts[1];
  make("tspan", {}, zText).textContent = zParts[2];

  const nText = make("text", {x:421.5, y:top+405, "font-size":16}, g);
  
  
  make("tspan", {}, nText).textContent = "N";
  make("tspan", {"font-size":11, dy:3}, nText).textContent = "total";
  make("tspan", {dy:-3}, nText).textContent = " = " + panelTotals[p];
});
</script>
</body>
</html>
